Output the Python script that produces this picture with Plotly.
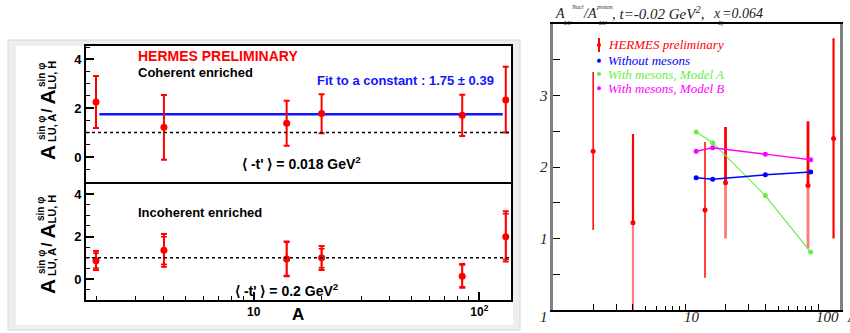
import math
import plotly.graph_objects as go

W, H = 850, 333
def px(x): return x / W
def py(y): return 1 - y / H

# ---------------- data ----------------
A_nuclei = [2, 4, 14, 20, 84, 131]

# left, top panel (coherent enriched)
coh_val = [2.25, 1.22, 1.38, 1.78, 1.71, 2.34]
coh_hi  = [3.32, 2.54, 2.30, 2.57, 2.55, 3.70]
coh_lo  = [1.19, -0.11, 0.46, 0.97, 0.86, 1.00]
fit_value = 1.75
fit_span = [2.07, 127]

# left, bottom panel (incoherent enriched)
inc_val     = [0.86, 1.35, 0.94, 1.00, 0.13, 1.99]
inc_tot_hi  = [1.32, 2.12, 1.77, 1.55, 0.71, 3.19]
inc_tot_lo  = [0.42, 0.58, 0.13, 0.42, -0.41, 0.82]
inc_stat_hi = [1.21, 1.99, 1.73, 1.42, 0.66, 3.07]
inc_stat_lo = [0.52, 0.69, 0.16, 0.53, -0.36, 0.93]

# right panel
h_A   = [2, 4, 14, 20, 84, 131]
h_val = [2.22, 1.22, 1.40, 1.78, 1.74, 2.40]
h_hi  = [3.33, 2.46, 2.35, 2.56, 2.64, 3.80]
h_lo  = [1.12, -0.10, 0.45, 1.00, 0.86, 1.00]
h_width = [1.5, 2.2, 1.5, 2.8, 2.8, 2.2]
h_light_low = [False, True, False, True, True, False]

t_A = [12, 16, 40, 88]
no_mesons = [1.85, 1.83, 1.89, 1.93]
model_a   = [2.49, 2.34, 1.60, 0.81]
model_b   = [2.22, 2.27, 2.18, 2.10]

left_xticks = [10, 100]
left_xticklabels = ["10", "10<sup>2</sup>"]
left_xminor = [2, 3, 4, 5, 6, 7, 8, 9, 20, 30, 40, 50, 60, 70, 80, 90]
left_yticks = [0, 2, 4]
left_yminor = [-1, -0.5, 0.5, 1, 1.5, 2.5, 3, 3.5, 4.5]

right_yticks = [1, 2, 3]
right_yminor = [0.5, 1.5, 2.5, 3.5]
right_xticks = [2, 3, 4, 10, 20, 30, 40, 100]
right_xminor = [5, 6, 7, 8, 9, 50, 60, 70, 80, 90]
right_xlabels = ["1", "10", "100"]
right_xlabel_pos = [1, 10, 100]

RED = "#ff0000"
BLUE = "#0000ff"
GREEN = "#66ee44"
MAGENTA = "#ff00ff"

fig = go.Figure()

# ---- top-left ----
fig.add_trace(go.Scatter(
    x=fit_span, y=[fit_value] * len(fit_span), mode="lines",
    line=dict(color="#1414ff", width=2.5), xaxis="x", yaxis="y"))
fig.add_trace(go.Scatter(
    x=A_nuclei, y=coh_val, mode="markers",
    marker=dict(color=RED, size=7),
    error_y=dict(type="data", symmetric=False,
                 array=[h - v for h, v in zip(coh_hi, coh_val)],
                 arrayminus=[v - l for v, l in zip(coh_val, coh_lo)],
                 color=RED, thickness=2, width=3),
    xaxis="x", yaxis="y"))

# ---- bottom-left ----
fig.add_trace(go.Scatter(
    x=A_nuclei, y=inc_val, mode="markers",
    marker=dict(color="rgba(0,0,0,0)", size=1),
    error_y=dict(type="data", symmetric=False,
                 array=[h - v for h, v in zip(inc_stat_hi, inc_val)],
                 arrayminus=[v - l for v, l in zip(inc_val, inc_stat_lo)],
                 color=RED, thickness=1.5, width=3),
    xaxis="x2", yaxis="y2"))
fig.add_trace(go.Scatter(
    x=A_nuclei, y=inc_val, mode="markers",
    marker=dict(color=RED, size=7),
    error_y=dict(type="data", symmetric=False,
                 array=[h - v for h, v in zip(inc_tot_hi, inc_val)],
                 arrayminus=[v - l for v, l in zip(inc_val, inc_tot_lo)],
                 color=RED, thickness=2, width=3),
    xaxis="x2", yaxis="y2"))

# ---- right panel ----
for a, v, hi, lo, w, light in zip(h_A, h_val, h_hi, h_lo, h_width, h_light_low):
    fig.add_trace(go.Scatter(x=[a, a], y=[v, hi], mode="lines",
                             line=dict(color=RED, width=w),
                             xaxis="x3", yaxis="y3"))
    fig.add_trace(go.Scatter(x=[a, a], y=[lo, v], mode="lines",
                             line=dict(color="#ff7a7a" if light else RED, width=w),
                             xaxis="x3", yaxis="y3"))
for vals, col, lw in [(model_a, GREEN, 1.2), (model_b, MAGENTA, 1.5), (no_mesons, BLUE, 1.5)]:
    fig.add_trace(go.Scatter(x=t_A, y=vals, mode="lines+markers",
                             line=dict(color=col, width=lw),
                             marker=dict(color=col, size=5),
                             xaxis="x3", yaxis="y3"))
fig.add_trace(go.Scatter(x=h_A, y=h_val, mode="markers",
                         marker=dict(color=RED, size=5, symbol="circle"),
                         xaxis="x3", yaxis="y3"))

# ---------------- axes ----------------
sans_bold = dict(family="Liberation Sans", size=13, color="black", weight="bold")
serif_it = dict(family="Liberation Serif", size=15, color="#222222", style="italic")

xleft_range = [0.2567, 2.1405]
common_left_y = dict(
    showline=True, mirror=True, linecolor="black", linewidth=2,
    tickmode="array", tickvals=left_yticks, ticks="inside", ticklen=8,
    tickwidth=1.5, tickcolor="black", tickfont=sans_bold,
    minor=dict(tickmode="array", tickvals=left_yminor, ticks="inside",
               ticklen=4, tickwidth=1.2, tickcolor="black", showgrid=False),
    showgrid=False, zeroline=False, fixedrange=True)

fig.update_layout(
    width=W, height=H, margin=dict(l=0, r=0, t=0, b=0),
    paper_bgcolor="white", plot_bgcolor="white", showlegend=False,
    xaxis=dict(domain=[px(86), px(511)], anchor="y", type="log", range=xleft_range,
               showline=True, mirror=True, linecolor="black", linewidth=2,
               showticklabels=False, ticks="", showgrid=False, zeroline=False),
    yaxis=dict(domain=[py(182), py(46)], anchor="x", range=[-1.025, 4.549], **common_left_y),
    xaxis2=dict(domain=[px(86), px(511)], anchor="y2", type="log", range=xleft_range,
                showline=True, mirror=True, linecolor="black", linewidth=2,
                tickmode="array", tickvals=left_xticks, ticktext=left_xticklabels,
                ticks="inside", ticklen=8, tickwidth=1.5, tickcolor="black",
                tickfont=dict(family="Liberation Sans", size=12, color="black", weight="bold"),
                minor=dict(tickmode="array", tickvals=left_xminor, ticks="inside",
                           ticklen=4, tickwidth=1.2, tickcolor="black", showgrid=False),
                showgrid=False, zeroline=False),
    yaxis2=dict(domain=[py(300), py(184)], anchor="x2", range=[-0.988, 4.47], **common_left_y),
    xaxis3=dict(domain=[px(553.3), px(840)], anchor="y3", type="log", range=[0, 2.166],
                showline=True, mirror=True, linecolor="black", linewidth=1.5,
                tickmode="array", tickvals=right_xticks, showticklabels=False,
                ticks="inside", ticklen=6, tickwidth=1, tickcolor="black",
                minor=dict(tickmode="array", tickvals=right_xminor, ticks="inside",
                           ticklen=4, tickwidth=1, tickcolor="black", showgrid=False),
                showgrid=False, zeroline=False),
    yaxis3=dict(domain=[py(310), py(24)], anchor="x3", range=[0, 4],
                showline=True, mirror=True, linecolor="#808080", linewidth=2.5,
                tickmode="array", tickvals=right_yticks,
                ticks="inside", ticklen=7, tickwidth=1, tickcolor="black",
                minor=dict(tickmode="array", tickvals=right_yminor, ticks="inside",
                           ticklen=7, tickwidth=1, tickcolor="black", showgrid=False),
                tickfont=serif_it, showgrid=False, zeroline=False),
)

# ---------------- decorations ----------------
shapes = [
    dict(type="rect", xref="paper", yref="paper", x0=px(8), x1=px(520), y0=py(330), y1=py(40),
         fillcolor="#eeeeee", line=dict(color="#d6d6d6", width=1), layer="below"),
    dict(type="rect", xref="paper", yref="paper", x0=px(16), x1=px(513), y0=py(325), y1=py(46),
         fillcolor="white", line=dict(width=0), layer="below"),
    dict(type="line", xref="x domain", yref="y", x0=0, x1=1, y0=1, y1=1,
         line=dict(color="black", width=1.5, dash="3px,3px")),
    dict(type="line", xref="x2 domain", yref="y2", x0=0, x1=1, y0=1, y1=1,
         line=dict(color="black", width=1.5, dash="3px,3px")),
    # legend symbols (right panel)
    dict(type="line", xref="paper", yref="paper", x0=px(599), x1=px(599), y0=py(52), y1=py(38),
         line=dict(color=RED, width=2)),
]
for yc, col in [(45, RED), (60.7, BLUE), (74, GREEN), (88.3, MAGENTA)]:
    shapes.append(dict(type="circle", xref="paper", yref="paper",
                       x0=px(597), x1=px(601), y0=py(yc + 2), y1=py(yc - 2),
                       fillcolor=col, line=dict(color=col, width=0)))
fig.update_layout(shapes=shapes)

ann = []
def T(x, y, text, size, color="black", xanchor="left", family="Liberation Sans",
      weight="bold", style="normal", angle=0):
    ann.append(dict(x=px(x), y=py(y), xref="paper", yref="paper", text=text,
                    showarrow=False, xanchor=xanchor, yanchor="middle", textangle=angle,
                    font=dict(family=family, size=size, color=color, weight=weight, style=style)))

T(136, 56, "HERMES PRELIMINARY", 14, RED)
T(136, 72.7, "Coherent enriched", 13)
T(315, 80.7, "Fit to a constant : 1.75 \u00b1 0.39", 13, "#1414ff")
T(240, 163.3, "\u27e8 -t' \u27e9 = 0.018 GeV<sup>2</sup>", 14)
T(136, 212, "Incoherent enriched", 13)
T(233, 290, "\u27e8 -t' \u27e9 = 0.2 GeV<sup>2</sup>", 14)
T(298, 314, "A", 17, xanchor="center")

# rotated y titles on the left
for dy in (0, 134):
    T(47, 153 + dy, "A", 21, xanchor="center", angle=-90)
    T(41, 128 + dy, "sin \u03c6", 10, xanchor="center", angle=-90)
    T(51.5, 128.5 + dy, "LU, A", 11, xanchor="center", angle=-90)
    T(46.5, 110.3 + dy, "/", 15, xanchor="center", angle=-90)
    T(47, 97.5 + dy, "A", 21, xanchor="center", angle=-90)
    T(41, 75 + dy, "sin \u03c6", 10, xanchor="center", angle=-90)
    T(51.5, 75 + dy, "LU, H", 11, xanchor="center", angle=-90)

# right panel title
SER = "Liberation Serif"
def S(x, y, text, size):
    T(x, y, text, size, "#222222", family=SER, weight="normal", style="italic")
S(553, 13, "A", 14)
S(561, 23, "LU", 6)
S(569, 7, "Nucl", 6)
S(581, 13, "/A", 14)
S(596, 23, "LU", 6)
S(594, 7, "proton", 6)
S(610, 13, ", t=-0.02 GeV<sup>2</sup>,", 15)
S(711, 13, "x", 14)
S(716, 23, "Bj", 6)
S(720, 13, "=0.064", 14)

# legend texts
def L(y, text, col):
    T(606, y, text, 13, col, family=SER, weight="normal", style="italic")
L(45, "HERMES preliminary", RED)
L(60.7, "Without mesons", BLUE)
L(74, "With mesons, Model A", GREEN)
L(88.3, "With mesons, Model B", MAGENTA)

# right x tick labels (placed on the log axis)
for lab, v, sh in zip(right_xlabels, right_xlabel_pos, [-9, 6, 9]):
    ann.append(dict(x=math.log10(v), y=py(317), xref="x3", yref="paper", text=lab,
                    showarrow=False, xanchor="center", yanchor="middle", xshift=sh,
                    font=dict(family=SER, size=15, color="#222222", style="italic")))
T(845, 317, "A", 15, "#222222", family=SER, weight="normal", style="italic")

fig.update_layout(annotations=ann)
fig.write_html("out.html", config={"displayModeBar": False},
               post_script="document.body.style.margin='0px';")
